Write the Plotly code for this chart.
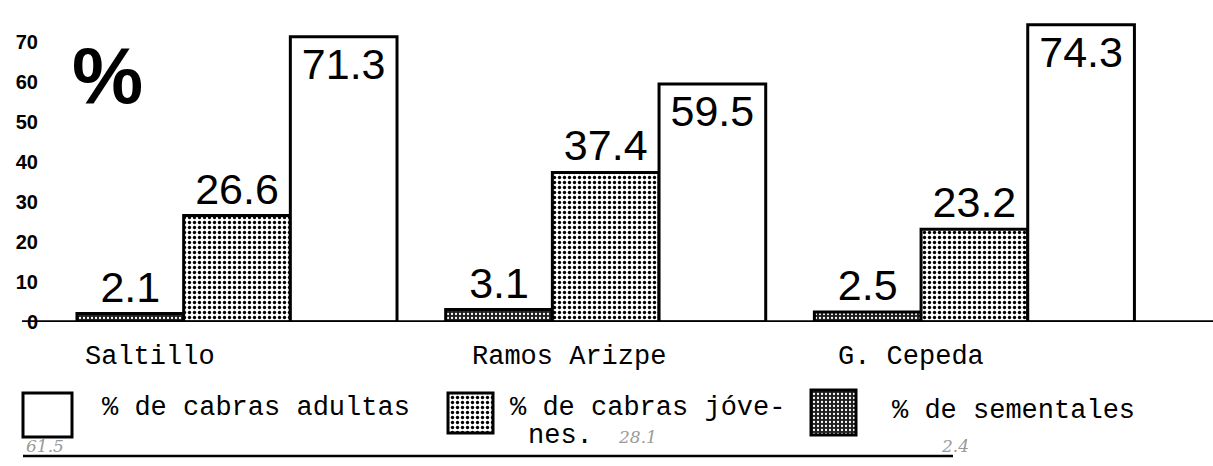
import plotly.graph_objects as go

# ---------------- data ----------------
places = ["Saltillo", "Ramos Arizpe", "G. Cepeda"]
sementales = [2.1, 3.1, 2.5]
jovenes = [26.6, 37.4, 23.2]
adultas = [71.3, 59.5, 74.3]
y_ticks = [0, 10, 20, 30, 40, 50, 60, 70]

legend_labels = ["% de cabras adultas", "% de cabras jóve-", "% de sementales"]
handwritten = ["61.5", "28.1", "2.4"]

W, H = 1213, 466
BASE_PX = 322  # pixel row of the baseline


def px(x):
    return x / W


def py(y):
    return 1 - y / H


LINE = dict(color="black", width=3)
VAL_FONT = dict(family="Liberation Sans, Arial, sans-serif", size=43, color="black")
MONO = "Liberation Mono, Courier New, monospace"

pat_sem = dict(shape=".", fgcolor="white", bgcolor="#1e1e1e", size=4, solidity=0.25, fillmode="replace")
pat_jov = dict(shape=".", fgcolor="black", bgcolor="white", size=5, solidity=0.36, fillmode="replace")

fig = go.Figure()

fig.add_trace(go.Bar(
    x=places, y=sementales, name="sementales",
    marker=dict(color="white", line=LINE, pattern=pat_sem),
    text=[f"{v}" for v in sementales], textposition="outside",
    textfont=VAL_FONT, cliponaxis=False, showlegend=False,
))
fig.add_trace(go.Bar(
    x=places, y=jovenes, name="jóvenes",
    marker=dict(color="white", line=LINE, pattern=pat_jov),
    text=[f"{v}" for v in jovenes], textposition="outside",
    textfont=VAL_FONT, cliponaxis=False, showlegend=False,
))
fig.add_trace(go.Bar(
    x=places, y=adultas, name="adultas",
    marker=dict(color="white", line=LINE),
    text=[f"{v}" for v in adultas], textposition="inside", insidetextanchor="end",
    textangle=0, textfont=VAL_FONT, constraintext="none",
    cliponaxis=False, showlegend=False,
))

# legend swatches on a hidden pixel-scaled axis pair
swatches = [  # (left, right, top, bottom) in px, pattern
    (23, 72, 393, 437, None),
    (448, 493, 393, 433, pat_jov),
    (811, 856, 390, 435, pat_sem),
]
for (l, r, t, b, pat) in swatches:
    mk = dict(color="white", line=LINE)
    if pat:
        mk["pattern"] = pat
    fig.add_trace(go.Bar(
        x=[l], y=[b - t], base=[t], width=[r - l], offset=[0],
        xaxis="x2", yaxis="y2", marker=mk, showlegend=False, hoverinfo="skip",
    ))

# category spacing (px per category) and axis range
c0, cstep = 237.0, 368.7
left_px = 42
x_range = [-(c0 - left_px) / cstep, (W - c0) / cstep]

fig.update_layout(
    width=W, height=H,
    margin=dict(l=0, r=0, t=0, b=0, autoexpand=False),
    paper_bgcolor="white", plot_bgcolor="rgba(0,0,0,0)",
    barmode="group", bargap=0.132, bargroupgap=0,
    xaxis=dict(domain=[px(left_px), 1], range=x_range, showticklabels=False,
               showgrid=False, zeroline=False, showline=False, ticks="", automargin=False),
    yaxis=dict(domain=[py(BASE_PX), 1], range=[0, BASE_PX / 4.0],
               tickvals=y_ticks, showgrid=False, zeroline=False, showline=False,
               ticks="", ticklabelstandoff=3, automargin=False,
               tickfont=dict(family="Liberation Sans, Arial, sans-serif", size=20, color="black", weight="bold")),
    xaxis2=dict(domain=[0, 1], range=[0, W], anchor="y2", visible=False),
    yaxis2=dict(domain=[0, 1], range=[H, 0], anchor="x2", visible=False),
    showlegend=False,
)

shapes = [
    dict(type="line", xref="paper", yref="y", x0=px(22), x1=1, y0=0, y1=0,
         line=dict(color="black", width=3.5)),
    dict(type="line", xref="paper", yref="paper", x0=px(23), x1=px(953), y0=py(456), y1=py(456),
         line=dict(color="black", width=2.5)),
]
fig.update_layout(shapes=shapes)

ann = []
# big percent sign
ann.append(dict(text="<b>%</b>", xref="paper", yref="paper", x=px(107), y=py(76),
                xanchor="center", yanchor="middle", showarrow=False,
                font=dict(family="Liberation Sans, Arial, sans-serif", size=80, color="black")))
# category labels (left aligned under each group)
cat_left = [83, 470, 836]
for i, name in enumerate(places):
    ann.append(dict(text=name, xref="x", yref="paper", x=name, y=py(357),
                    xanchor="left", yanchor="middle", xshift=cat_left[i] - (c0 + i * cstep),
                    showarrow=False, font=dict(family=MONO, size=27, color="black")))
# legend labels
leg_pos = [(100, 408), (508, 408), (890, 411)]
for (x, y), t in zip(leg_pos, legend_labels):
    ann.append(dict(text=t, xref="paper", yref="paper", x=px(x), y=py(y),
                    xanchor="left", yanchor="middle", showarrow=False,
                    font=dict(family=MONO, size=27, color="black")))
ann.append(dict(text="nes.", xref="paper", yref="paper", x=px(526), y=py(436),
                xanchor="left", yanchor="middle", showarrow=False,
                font=dict(family=MONO, size=27, color="black")))
# faint handwritten notes
hw_pos = [(45, 446), (637, 437), (955, 446)]
for (x, y), t in zip(hw_pos, handwritten):
    ann.append(dict(text=f"<i>{t}</i>", xref="paper", yref="paper", x=px(x), y=py(y),
                    xanchor="center", yanchor="middle", showarrow=False,
                    font=dict(family="DejaVu Serif, serif", size=17, color="#9a9a9a")))
fig.update_layout(annotations=ann)

fig.write_html("out.html", config={"displayModeBar": False},
               post_script="document.body.style.margin='0';document.body.style.overflow='hidden';")
